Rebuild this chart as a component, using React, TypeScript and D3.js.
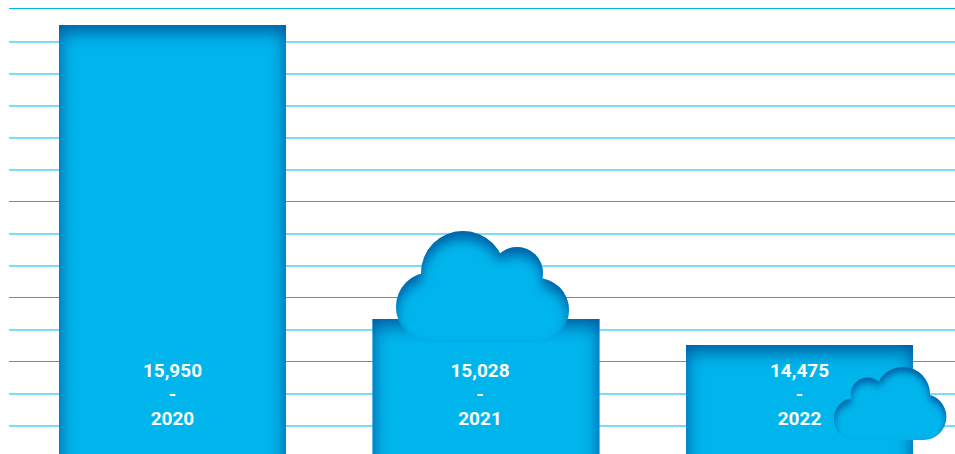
import React, { useEffect, useRef } from "react";
import * as d3 from "d3";

const WIDTH = 955;
const HEIGHT = 454;

const years = ["2020", "2021", "2022"];
const valueLabels = ["15,950", "15,028", "14,475"];
// bar tops, in gridline steps above the lowest gridline (the picture is not to value scale)
const barLevels = [12.53, 3.344, 2.531];
const gridLevels = [0, 1, 2.016, 3, 4.016, 5, 6, 7.016, 8, 9, 10, 11, 12, 13.047];
const labelShift = [0, -6, 0];

// cloud outline: lobes as [cx, cy, r] in the reference's cloud space
const cloudLobes: [number, number, number][] = [
  [463, 273, 42],
  [517, 273, 26],
  [431, 307, 35],
  [537, 310, 32],
];

const BLUE = "#00b5ec";

function cloudPath() {
  const p = d3.path();
  cloudLobes.forEach(([cx, cy, r]) => {
    p.moveTo(cx + r, cy);
    p.arc(cx, cy, r, 0, Math.PI * 2);
    p.closePath();
  });
  p.rect(431, 290, 106, 52);
  return p.toString();
}

export default function App() {
  const ref = useRef<SVGSVGElement>(null);

  useEffect(() => {
    const svg = d3.select(ref.current);
    svg.selectAll("*").remove();

    const y = d3.scaleLinear().domain([0, 13]).range([426, 10]);
    const x = d3.scaleBand().domain(years).range([59, 913]).paddingInner(0.276).paddingOuter(0);

    const defs = svg.append("defs");
    const inner = (id: string, dy: number, blur: number, color: string, opacity: number) => {
      const f = defs.append("filter").attr("id", id)
        .attr("color-interpolation-filters", "sRGB")
        .attr("x", "-25%").attr("y", "-25%").attr("width", "150%").attr("height", "150%");
      f.append("feOffset").attr("in", "SourceAlpha").attr("dy", dy).attr("result", "o");
      f.append("feGaussianBlur").attr("in", "o").attr("stdDeviation", blur).attr("result", "b");
      f.append("feComposite").attr("in", "SourceAlpha").attr("in2", "b").attr("operator", "out").attr("result", "i");
      f.append("feFlood").attr("flood-color", color).attr("flood-opacity", opacity);
      f.append("feComposite").attr("in2", "i").attr("operator", "in").attr("result", "s");
      const m = f.append("feMerge");
      m.append("feMergeNode").attr("in", "SourceGraphic");
      m.append("feMergeNode").attr("in", "s");
    };
    inner("barShade", 6, 9, "#004b94", 0.92);
    inner("cloudShade", 8, 6, "#004b94", 0.8);

    svg.append("g").selectAll("line").data(gridLevels).join("line")
      .attr("x1", 9).attr("x2", WIDTH)
      .attr("y1", (d) => y(d)).attr("y2", (d) => y(d))
      .attr("stroke", "#00b5ec").attr("stroke-width", 1);

    svg.append("g").selectAll("rect").data(years).join("rect")
      .attr("x", (d) => x(d)!)
      .attr("y", (_, i) => y(barLevels[i]))
      .attr("width", x.bandwidth())
      .attr("height", (_, i) => HEIGHT + 40 - y(barLevels[i]))
      .attr("fill", BLUE)
      .attr("filter", "url(#barShade)");

    const d = cloudPath();
    svg.append("path").attr("d", d).attr("fill", BLUE).attr("filter", "url(#cloudShade)");

    svg.append("path").attr("d", d).attr("fill", BLUE).attr("filter", "url(#cloudShade)")
      .attr("transform", "translate(947,367) scale(-0.65,0.657) translate(-395,-231)");

    const t = svg.append("g").attr("fill", "#fff").attr("text-anchor", "middle")
      .style("font-family", "Roboto, sans-serif").style("font-weight", 700)
      .style("font-size", "19px");
    years.forEach((yr, i) => {
      const cx = x(yr)! + x.bandwidth() / 2 + labelShift[i];
      t.append("text").attr("x", cx).attr("y", 377).text(valueLabels[i]);
      t.append("text").attr("x", cx).attr("y", 401).text("-");
      t.append("text").attr("x", cx).attr("y", 425).text(yr);
    });
  }, []);

  return (
    <svg
      ref={ref}
      width={WIDTH}
      height={HEIGHT}
      style={{ position: "absolute", left: 0, top: 0, display: "block", background: "#fff" }}
    />
  );
}
